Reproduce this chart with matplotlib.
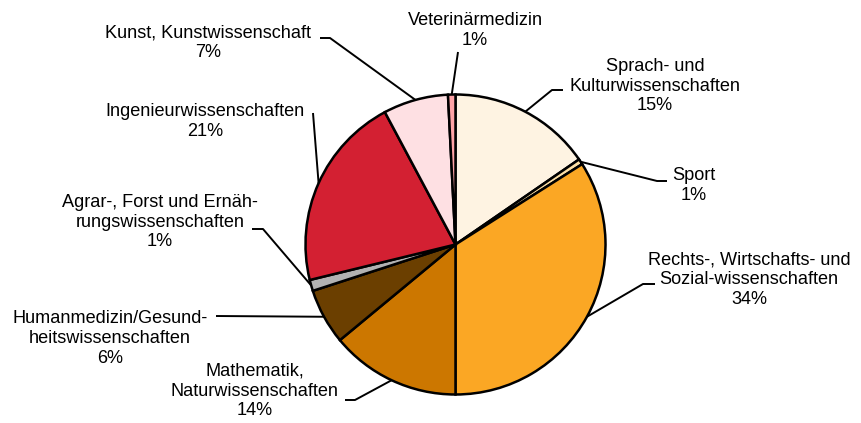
import matplotlib
matplotlib.use("Agg")
import matplotlib.pyplot as plt
import numpy as np

plt.rcParams['font.family'] = ['Liberation Sans', 'DejaVu Sans']

categories = [
    "Sprach- und\nKulturwissenschaften",
    "Sport",
    "Rechts-, Wirtschafts- und\nSozial-wissenschaften",
    "Mathematik,\nNaturwissenschaften",
    "Humanmedizin/Gesund-\nheitswissenschaften",
    "Agrar-, Forst und Ernäh-\nrungswissenschaften",
    "Ingenieurwissenschaften",
    "Kunst, Kunstwissenschaft",
    "Veterinärmedizin",
]
values = [15.4, 0.6, 34.0, 14.0, 6.0, 1.2, 21.0, 7.0, 0.8]
pct_labels = ["15%", "1%", "34%", "14%", "6%", "1%", "21%", "7%", "1%"]
colors = ["#FEF3E2", "#FDDFA5", "#FBA724", "#CC7700", "#6B3F00",
          "#B2B2B2", "#D32032", "#FEE0E3", "#FFA3A6"]

W, H = 861, 423
fig = plt.figure(figsize=(W / 100, H / 100), dpi=100)
ax = fig.add_axes([0, 0, 1, 1])

cx, cy, R = 455.5, H - 244.5, 150
wedges, _ = ax.pie(values, colors=colors, startangle=90, counterclock=False,
                   center=(cx, cy), radius=R, frame=True,
                   wedgeprops=dict(edgecolor='black', linewidth=1.8))
ax.set_xlim(0, W)
ax.set_ylim(0, H)
ax.set_aspect('equal')
ax.axis('off')

# layout: leader path points after wedge edge (pixel coords, y from top), text center
layout = [
    ([(552, 90), (563, 90)], (655, 86)),
    ([(657, 181), (667, 181)], (694, 185.5)),
    ([(643, 284), (655, 284)], (749, 280)),
    ([(355, 400), (345, 400)], (255, 391)),
    ([(216, 316)], (110, 338.5)),
    ([(263, 229), (252, 229)], (160, 222)),
    ([(313, 113)], (205, 121.5)),
    ([(330, 38), (320, 38)], (208, 43)),
    ([(458, 52)], (475, 30.5)),
]

for w, cat, pct, (pts, (tx, ty)) in zip(wedges, categories, pct_labels, layout):
    mid = np.deg2rad((w.theta1 + w.theta2) / 2)
    ex, ey = cx + R * np.cos(mid), cy + R * np.sin(mid)
    xs = [ex] + [p[0] for p in pts]
    ys = [ey] + [H - p[1] for p in pts]
    ax.plot(xs, ys, color='black', lw=1.4, solid_capstyle='butt', zorder=0.5)
    ax.text(tx, H - ty, cat + "\n" + pct, ha='center', va='center',
            fontsize=13.1, color='black', linespacing=1.2)

fig.savefig("out.png", dpi=100)
